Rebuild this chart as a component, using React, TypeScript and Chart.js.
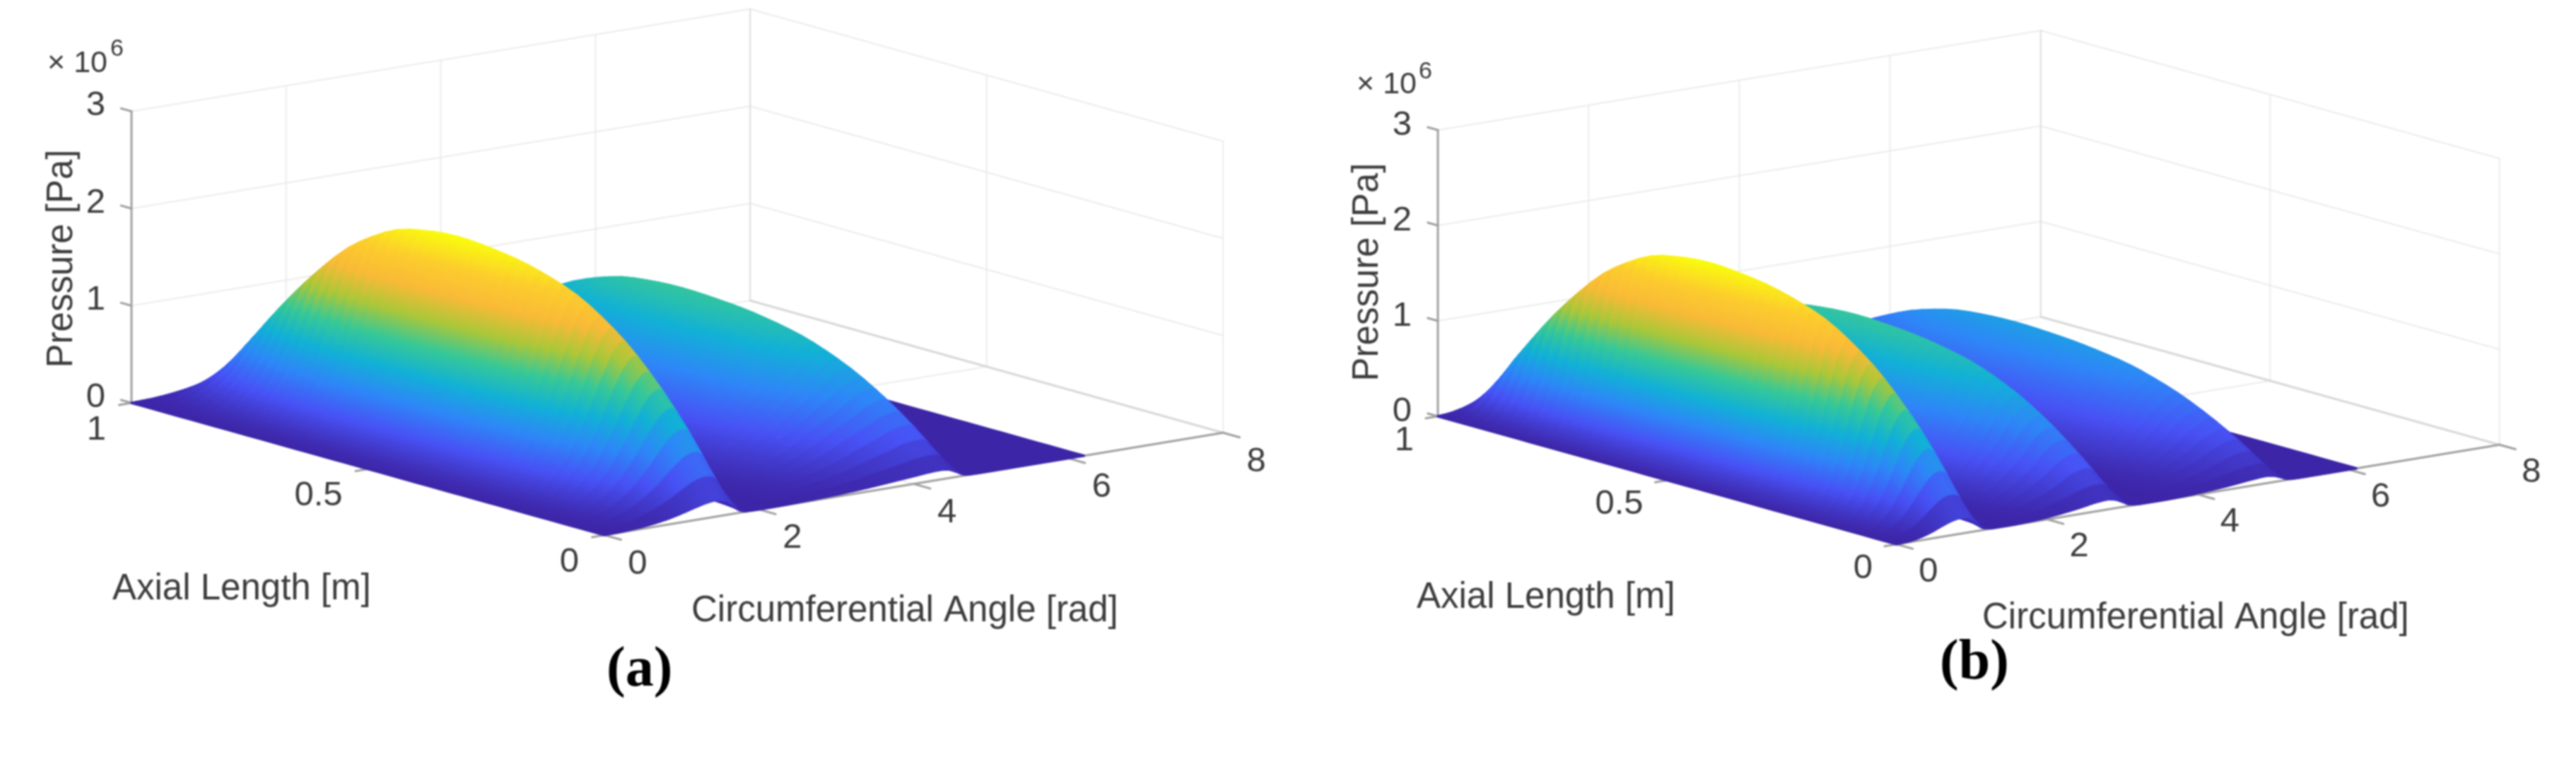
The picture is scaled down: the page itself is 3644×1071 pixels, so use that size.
import React, { useEffect, useRef } from "react";
import { Chart, registerables } from "chart.js";

Chart.register(...registerables);

const WIDTH = 3644;
const HEIGHT = 1071;

// Circumferential stations [rad] and crest pressure there [×10^6 Pa]
const thetaA = [0, 0.2, 0.4, 0.6, 0.8, 1.0, 1.2, 1.35, 1.45, 1.55, 1.65, 1.75, 1.85, 2.0, 2.2, 2.5, 2.8, 3.1, 3.4, 3.7, 4.0, 4.2, 4.35, 4.45, 4.55, 4.65, 4.75, 4.9, 6.2];
const crestA = [0, 0.05, 0.18, 0.4, 0.72, 1.18, 1.72, 2.04, 2.13, 1.97, 1.3, 0.35, 0.06, 0, 0.01, 0.07, 0.17, 0.3, 0.5, 0.75, 1.0, 1.17, 1.22, 1.12, 0.7, 0.2, 0.03, 0, 0];
const thetaB = [0, 0.15, 0.3, 0.45, 0.6, 0.75, 0.85, 0.95, 1.05, 1.15, 1.3, 1.5, 1.8, 2.1, 2.4, 2.65, 2.8, 2.9, 3.0, 3.1, 3.25, 3.5, 3.8, 4.1, 4.4, 4.7, 4.9, 5.0, 5.1, 5.2, 5.35, 6.1];
const crestB = [0, 0.12, 0.4, 0.85, 1.45, 1.95, 2.1, 1.95, 1.2, 0.3, 0.03, 0.02, 0.12, 0.4, 0.8, 1.2, 1.3, 1.15, 0.7, 0.2, 0.02, 0.01, 0.08, 0.25, 0.5, 0.82, 0.95, 0.85, 0.5, 0.12, 0, 0];

// Where each lobe starts [rad], and how far up the colour scale its colours sit
const lobeStartA = [0, 1.95];
const lobeToneA = [1, 0.84];
const lobeStartB = [0, 1.3, 3.25];
const lobeToneB = [1, 0.78, 0.7];

// Axial stations [m] and the share of the crest pressure reached there
const axialStations = [0, 0.03, 0.07, 0.14, 0.22, 0.32, 0.45, 0.55, 0.65, 0.75, 0.85, 0.95, 1];
const axialShare = [0.08, 0.2, 0.36, 0.58, 0.76, 0.9, 0.98, 1, 0.97, 0.85, 0.62, 0.3, 0.08];

// Parula colour stops
const parulaStops = [0, 0.125, 0.25, 0.375, 0.5, 0.625, 0.75, 0.875, 1];
const parulaR = [62, 72, 46, 18, 55, 171, 249, 252, 249];
const parulaG = [38, 82, 135, 177, 200, 199, 186, 205, 251];
const parulaB = [168, 245, 247, 214, 151, 57, 56, 45, 14];

// Axis ticks
const thetaTicks = [0, 2, 4, 6, 8];
const axialTicks = [0, 0.5, 1];
const axialTickText = ["0", "0.5", "1"];
const pressureTicks = [0, 1, 2, 3];

const AXIAL_TITLE = "Axial Length [m]";
const THETA_TITLE = "Circumferential Angle [rad]";
const PRESSURE_TITLE = "Pressure [Pa]";

type Panel = {
  origin: number[]; uT: number[]; uA: number[]; uZ: number;
  thetas: number[]; crest: number[]; lobeStart: number[]; lobeTone: number[];
  exp: { x: number; y: number; supX: number; supY: number };
  pressTitle: { x: number; y: number };
  axialTitle: { x: number; y: number };
  thetaTitle: { x: number; y: number };
  caption: { text: string; x: number; y: number };
  labT: number[]; labA: number[]; labZ: number[];
};

const panels: Panel[] = [
  {
    origin: [855, 757], uT: [109.4, -18.1], uA: [-669, -187], uZ: 137.5,
    thetas: thetaA, crest: crestA, lobeStart: lobeStartA, lobeTone: lobeToneA,
    exp: { x: 152, y: 90, supX: 156, supY: 70 },
    pressTitle: { x: 88, y: 366 },
    axialTitle: { x: 159, y: 848 },
    thetaTitle: { x: 978, y: 879 },
    caption: { text: "(a)", x: 858, y: 970 },
    labT: [47, 41], labA: [-36, 38], labZ: [-37, -8],
  },
  {
    origin: [2683, 770], uT: [106.6, -17.6], uA: [-649, -181], uZ: 135,
    thetas: thetaB, crest: crestB, lobeStart: lobeStartB, lobeTone: lobeToneB,
    exp: { x: 2004, y: 120, supX: 2007, supY: 102 },
    pressTitle: { x: 1935, y: 385 },
    axialTitle: { x: 2004, y: 860 },
    thetaTitle: { x: 2804, y: 889 },
    caption: { text: "(b)", x: 2744, y: 960 },
    labT: [45, 39], labA: [-34, 34], labZ: [-37, -7],
  },
];

// Monotone cubic reading between the stations
function monotone(xs: number[], ys: number[]) {
  const n = xs.length;
  const d: number[] = [];
  for (let i = 0; i < n - 1; i++) d.push((ys[i + 1] - ys[i]) / (xs[i + 1] - xs[i]));
  const m: number[] = [d[0]];
  for (let i = 1; i < n - 1; i++) m.push(d[i - 1] * d[i] <= 0 ? 0 : (2 * d[i - 1] * d[i]) / (d[i - 1] + d[i]));
  m.push(d[n - 2]);
  return (x: number) => {
    let i = 0;
    while (i < n - 2 && x > xs[i + 1]) i++;
    const h = xs[i + 1] - xs[i];
    const t = Math.min(1, Math.max(0, (x - xs[i]) / h));
    const t2 = t * t, t3 = t2 * t;
    return (2 * t3 - 3 * t2 + 1) * ys[i] + (t3 - 2 * t2 + t) * h * m[i] + (-2 * t3 + 3 * t2) * ys[i + 1] + (t3 - t2) * h * m[i + 1];
  };
}

function parula(v: number) {
  const u = Math.min(1, Math.max(0, v));
  let i = 0;
  while (i < parulaStops.length - 2 && u > parulaStops[i + 1]) i++;
  const f = (u - parulaStops[i]) / (parulaStops[i + 1] - parulaStops[i]);
  const c = (a: number[]) => Math.round(a[i] + (a[i + 1] - a[i]) * f);
  return `rgb(${c(parulaR)},${c(parulaG)},${c(parulaB)})`;
}

function projector(p: Panel) {
  return (t: number, a: number, z: number) => ({
    x: p.origin[0] + p.uT[0] * t + p.uA[0] * a,
    y: p.origin[1] + p.uT[1] * t + p.uA[1] * a - p.uZ * z,
  });
}

function lineSet(points: { x: number; y: number }[], color: string, width: number) {
  return { type: "line", data: points, borderColor: color, borderWidth: width, pointRadius: 0, fill: false, tension: 0, borderCapStyle: "round" };
}

function buildDatasets() {
  const back: any[] = [];
  const front: any[] = [];
  const grid = "#ececec";
  const edge = "#d8d8d8";
  const axis = "#a0a0a0";
  panels.forEach((p) => {
    const P = projector(p);
    const thetaMax = thetaTicks[thetaTicks.length - 1];
    // back walls and floor
    pressureTicks.slice(1).forEach((z) => {
      back.push(lineSet([P(0, 1, z), P(thetaMax, 1, z)], grid, 2));
      back.push(lineSet([P(thetaMax, 1, z), P(thetaMax, 0, z)], grid, 2));
    });
    thetaTicks.slice(1).forEach((t) => {
      back.push(lineSet([P(t, 1, 0), P(t, 1, 3)], t === thetaMax ? "#dddddd" : grid, 2));
      if (t < thetaMax) back.push(lineSet([P(t, 1, 0), P(t, 0, 0)], grid, 2));
    });
    back.push(lineSet([P(thetaMax, 0.5, 0), P(thetaMax, 0.5, 3)], grid, 2));
    back.push(lineSet([P(thetaMax, 0, 0), P(thetaMax, 0, 3)], grid, 2));
    back.push(lineSet([P(0, 0.5, 0), P(thetaMax, 0.5, 0)], grid, 2));
    back.push(lineSet([P(0, 1, 0), P(thetaMax, 1, 0)], grid, 2));
    back.push(lineSet([P(thetaMax, 1, 0), P(thetaMax, 0, 0)], edge, 3));
    // axes
    back.push(lineSet([P(0, 1, 0), P(0, 1, 3)], axis, 3));
    back.push(lineSet([P(0, 1, 0), P(0, 0, 0)], axis, 3));
    back.push(lineSet([P(0, 0, 0), P(thetaMax, 0, 0)], axis, 3));
    pressureTicks.forEach((z) => back.push(lineSet([P(0, 1, z), P(0, 1.022, z)], axis, 3)));
    axialTicks.forEach((a) => back.push(lineSet([P(0, a, 0), P(-0.16, a, 0)], axis, 3)));
    thetaTicks.forEach((t) => back.push(lineSet([P(t, 0, 0), P(t, -0.035, 0)], axis, 3)));
    // surface, one strip per column; the far columns come first and the step
    // shrinks where the surface is steep, so that neighbouring strips overlap
    const crestAt = monotone(p.thetas, p.crest);
    const shareAt = monotone(axialStations, axialShare);
    const thetaEnd = p.thetas[p.thetas.length - 1];
    const peak = Math.max(...p.crest);
    const rows = 40;
    const columns: number[] = [];
    let t = 0;
    while (t < thetaEnd) {
      columns.push(t);
      const slope = Math.abs(crestAt(t + 0.005) - crestAt(t)) / 0.005;
      t += Math.min(0.02, 1.8 / (p.uZ * Math.max(slope, 0.01)));
    }
    columns.push(thetaEnd);
    columns.reverse().forEach((col) => {
      const crest = Math.max(0, crestAt(col));
      let lobe = 0;
      p.lobeStart.forEach((s, i) => { if (col >= s) lobe = i; });
      const tone = p.lobeTone[lobe];
      const pts: { x: number; y: number }[] = [];
      const colors: string[] = [];
      for (let r = 0; r <= rows; r++) {
        const a = r / rows;
        const z = crest * Math.max(0, shareAt(a));
        pts.push(P(col, a, z));
        colors.push(parula((tone * z) / peak));
      }
      front.push({
        ...lineSet(pts, colors[0], 3.5),
        segment: { borderColor: (ctx: any) => colors[ctx.p0DataIndex] },
      });
    });
  });
  return [...back, ...front].reverse();
}

const textPlugin = {
  id: "figureText",
  afterDatasetsDraw(chart: any) {
    const ctx = chart.ctx as CanvasRenderingContext2D;
    ctx.save();
    ctx.fillStyle = "#3c3c3c";
    const sans = (s: number) => `${s}px "Liberation Sans", Arial, sans-serif`;
    panels.forEach((p) => {
      const P = projector(p);
      ctx.font = sans(49);
      ctx.textBaseline = "middle";
      ctx.textAlign = "center";
      thetaTicks.forEach((t) => {
        const q = P(t, 0, 0);
        ctx.fillText(String(t), q.x + p.labT[0], q.y + p.labT[1]);
      });
      ctx.textAlign = "right";
      axialTicks.forEach((a, i) => {
        const q = P(0, a, 0);
        ctx.fillText(axialTickText[i], q.x + p.labA[0], q.y + p.labA[1]);
      });
      pressureTicks.forEach((z) => {
        const q = P(0, 1, z);
        ctx.fillText(String(z), q.x + p.labZ[0], q.y + p.labZ[1]);
      });
      ctx.font = sans(43);
      ctx.fillText("× 10", p.exp.x, p.exp.y);
      ctx.textAlign = "left";
      ctx.font = sans(34);
      ctx.fillText("6", p.exp.supX, p.exp.supY);
      ctx.font = sans(51);
      ctx.textBaseline = "alphabetic";
      ctx.fillText(AXIAL_TITLE, p.axialTitle.x, p.axialTitle.y);
      ctx.fillText(THETA_TITLE, p.thetaTitle.x, p.thetaTitle.y);
      ctx.save();
      ctx.translate(p.pressTitle.x, p.pressTitle.y);
      ctx.rotate(-Math.PI / 2);
      ctx.textAlign = "center";
      ctx.textBaseline = "middle";
      ctx.fillText(PRESSURE_TITLE, 0, 0);
      ctx.restore();
      ctx.fillStyle = "#000000";
      ctx.font = `bold 80px "Liberation Serif", "Times New Roman", serif`;
      ctx.textAlign = "left";
      ctx.fillText(p.caption.text, p.caption.x, p.caption.y);
      ctx.fillStyle = "#3c3c3c";
    });
    ctx.restore();
  },
};

export default function App() {
  const ref = useRef<HTMLCanvasElement>(null);
  useEffect(() => {
    if (!ref.current) return;
    const chart = new Chart(ref.current, {
      type: "line",
      data: { datasets: buildDatasets() as any },
      options: {
        animation: false,
        responsive: false,
        events: [],
        layout: { padding: 0 },
        plugins: { legend: { display: false }, tooltip: { enabled: false }, title: { display: false } },
        scales: {
          x: { type: "linear", display: false, min: 0, max: WIDTH },
          y: { type: "linear", display: false, min: 0, max: HEIGHT, reverse: true },
        },
      },
      plugins: [textPlugin as any],
    });
    return () => chart.destroy();
  }, []);
  return (
    <canvas
      ref={ref}
      width={WIDTH}
      height={HEIGHT}
      style={{ position: "fixed", left: 0, top: 0, width: WIDTH, height: HEIGHT, background: "#fff", filter: "blur(0.8px)" }}
    />
  );
}
